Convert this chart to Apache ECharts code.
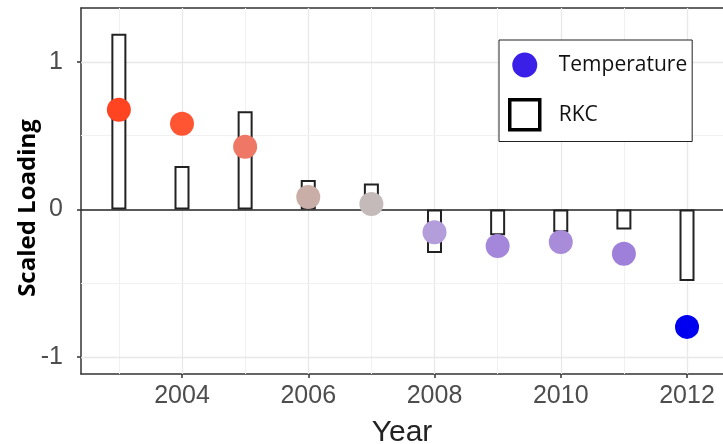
<!DOCTYPE html>
<html>
<head>
<meta charset="utf-8">
<script src="https://cdn.jsdelivr.net/npm/echarts@6/dist/echarts.min.js"></script>
<style>html,body{margin:0;padding:0;background:#fff}#c{width:723px;height:444px}</style>
</head>
<body>
<div id="c"></div>
<script>
const years = [2003, 2004, 2005, 2006, 2007, 2008, 2009, 2010, 2011, 2012];
const rkc = [1.19, 0.295, 0.665, 0.20, 0.175, -0.295, -0.175, -0.155, -0.135, -0.485];
const temperature = [0.675, 0.58, 0.425, 0.085, 0.037, -0.155, -0.248, -0.22, -0.30, -0.795];
const pointColors = ['#FF4422', '#FF5533', '#EE7766', '#C9ADA7', '#C4BABA', '#B39DDB', '#A487DA', '#A88CDA', '#9E80DA', '#0000F0'];
const xTicks = [2004, 2006, 2008, 2010, 2012];
const xMinor = [2003, 2005, 2007, 2009, 2011];
const yTicks = [-1, 0, 1];
const yMinor = [-0.5, 0.5];
const xRange = [2002.4, 2012.57];
const yRange = [-1.114, 1.364];

const chart = echarts.init(document.getElementById('c'));
const gridColor = '#E8E8E8';
const minorColor = '#F1F1F1';
const tickFont = {fontFamily: 'Liberation Sans', fontSize: 25, color: '#4D4D4D'};

const gridLines = []
  .concat(xTicks.map(v => ({xAxis: v, lineStyle: {color: gridColor, width: 1.3, type: 'solid'}})))
  .concat(xMinor.map(v => ({xAxis: v, lineStyle: {color: minorColor, width: 1, type: 'solid'}})))
  .concat(yTicks.filter(v => v !== 0).map(v => ({yAxis: v, lineStyle: {color: gridColor, width: 1.3, type: 'solid'}})))
  .concat(yMinor.map(v => ({yAxis: v, lineStyle: {color: minorColor, width: 1, type: 'solid'}})));

chart.setOption({
  animation: false,
  backgroundColor: '#fff',
  grid: {left: 81, right: 0, top: 8, bottom: 70, containLabel: false, outerBoundsMode: 'none'},
  legend: {
    z: 20,
    orient: 'vertical', left: 499, top: 40,
    backgroundColor: '#fff', borderColor: '#222', borderWidth: 1,
    padding: [10, 5, 10, 9],
    itemWidth: 30, itemHeight: 30, itemGap: 18,
    selectedMode: false,
    textStyle: {fontFamily: 'Open Sans', fontSize: 21, color: '#111', padding: [0, 0, 0, 14]},
    data: [
      {name: 'Temperature', icon: 'path://M0,0L0.01,0M30,30L29.99,30M27.5,15A12.5,12.5,0,1,1,2.5,15A12.5,12.5,0,1,1,27.5,15Z', itemStyle: {color: '#3A1FE8', borderWidth: 0, opacity: 1}},
      {name: 'RKC', icon: 'rect', itemStyle: {color: '#fff', borderColor: '#000', borderWidth: 3.5, opacity: 1}}
    ]
  },
  xAxis: [{
    type: 'value', min: xRange[0], max: xRange[1],
    name: 'Year', nameLocation: 'middle', nameGap: 44, nameMoveOverlap: false,
    nameTextStyle: {fontFamily: 'Liberation Sans', fontSize: 30, color: '#222'},
    axisLine: {show: true, onZero: false, lineStyle: {color: '#333', width: 1.5}},
    axisTick: {show: true, length: 4, customValues: xTicks, lineStyle: {color: '#333', width: 1.5}},
    axisLabel: Object.assign({customValues: xTicks, margin: 10, formatter: v => String(v)}, tickFont),
    splitLine: {show: false}
  }, {
    type: 'value', position: 'top', min: xRange[0], max: xRange[1],
    axisLine: {show: true, onZero: false, lineStyle: {color: '#333', width: 1.5}},
    axisTick: {show: false}, axisLabel: {show: false}, splitLine: {show: false}
  }],
  yAxis: {
    type: 'value', min: yRange[0], max: yRange[1],
    name: 'Scaled Loading', nameLocation: 'middle', nameGap: 41, nameRotate: 90, nameMoveOverlap: false,
    nameTextStyle: {fontFamily: 'Open Sans', fontWeight: 'bold', fontSize: 24, color: '#000', padding: [0, 34, 0, 0]},
    axisLine: {show: true, onZero: false, lineStyle: {color: '#333', width: 1.5}},
    axisTick: {show: true, length: 4, customValues: yTicks, lineStyle: {color: '#333', width: 1.5}},
    axisLabel: Object.assign({customValues: yTicks, margin: 18, formatter: v => String(v)}, tickFont),
    splitLine: {show: false}
  },
  series: [
    {
      type: 'line', data: [], z: 1, silent: true,
      markLine: {z: 1, silent: true, symbol: 'none', label: {show: false}, animation: false, data: gridLines}
    },
    {
      name: 'RKC', type: 'bar', z: 2, barWidth: 15,
      data: years.map((y, i) => [y, rkc[i]]),
      itemStyle: {color: '#fff', borderColor: '#222', borderWidth: 2}
    },
    {
      type: 'line', data: [], z: 3, silent: true,
      markLine: {z: 3, silent: true, symbol: 'none', label: {show: false}, animation: false,
        data: [{yAxis: 0, lineStyle: {color: '#222', width: 1.5, type: 'solid'}}]}
    },
    {
      name: 'Temperature', type: 'scatter', z: 4, symbolSize: 24,
      data: years.map((y, i) => ({value: [y, temperature[i]], itemStyle: {color: pointColors[i], opacity: 1}}))
    }
  ]
});
</script>
</body>
</html>
